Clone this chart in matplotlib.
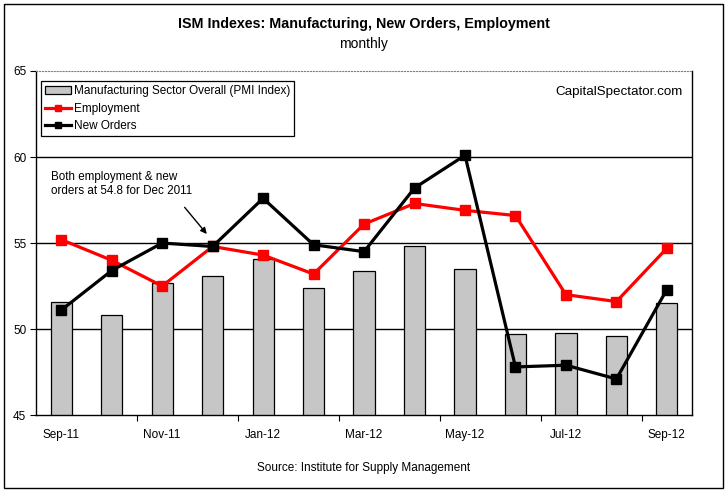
import matplotlib.pyplot as plt
from matplotlib.patches import Rectangle
from matplotlib.lines import Line2D

plt.rcParams['font.family'] = ['Liberation Sans', 'DejaVu Sans']

# ISM data, Sep 2011 - Sep 2012
months = ['Sep-11', 'Oct-11', 'Nov-11', 'Dec-11', 'Jan-12', 'Feb-12', 'Mar-12',
          'Apr-12', 'May-12', 'Jun-12', 'Jul-12', 'Aug-12', 'Sep-12']
pmi = [51.6, 50.8, 52.7, 53.1, 54.1, 52.4, 53.4, 54.8, 53.5, 49.7, 49.8, 49.6, 51.5]
employment = [55.2, 54.0, 52.5, 54.8, 54.3, 53.2, 56.1, 57.3, 56.9, 56.6, 52.0, 51.6, 54.7]
new_orders = [51.1, 53.4, 55.0, 54.8, 57.6, 54.9, 54.5, 58.2, 60.1, 47.8, 47.9, 47.1, 52.3]

x = list(range(len(months)))

fig = plt.figure(figsize=(7.27, 4.93), dpi=100)
ax = fig.add_axes([0.0495, 0.158, 0.9025, 0.698])

ax.bar(x, pmi, width=0.42, color='#c6c6c6', edgecolor='black', linewidth=0.9, zorder=2,
       label='Manufacturing Sector Overall (PMI Index)')
ax.plot(x, employment, color='#ff0000', lw=2.3, marker='s', ms=7, zorder=3, label='Employment')
ax.plot(x, new_orders, color='black', lw=2.3, marker='s', ms=7, zorder=4, label='New Orders')

ax.set_xlim(-0.5, len(months) - 0.5)
ax.set_ylim(45, 65)
for g in [50, 55, 60]:
    ax.axhline(g, color='black', lw=1, zorder=1)

ax.set_yticks([45, 50, 55, 60, 65])
ax.tick_params(axis='y', direction='out', length=4, width=0.8, pad=3, labelsize=8.5)
ax.set_xticks(x[::2])
ax.set_xticklabels(months[::2])
ax.set_xticks([1.5, 3.5, 5.5, 7.5, 9.5, 11.5], minor=True)
ax.tick_params(axis='x', which='major', length=0, pad=10, labelsize=8.5)
ax.tick_params(axis='x', which='minor', direction='out', length=4, width=0.8)

for s in ['left', 'right', 'bottom']:
    ax.spines[s].set_color('black')
    ax.spines[s].set_linewidth(1)
ax.spines['top'].set_color('#808080')
ax.spines['top'].set_linestyle(':')

handles = [Rectangle((0, 0), 1, 1, facecolor='#c6c6c6', edgecolor='black', lw=0.9),
           Line2D([], [], color='#ff0000', lw=2.3, marker='s', ms=5),
           Line2D([], [], color='black', lw=2.3, marker='s', ms=5)]
leg = ax.legend(handles, ['Manufacturing Sector Overall (PMI Index)', 'Employment', 'New Orders'],
                loc='upper left', bbox_to_anchor=(0.008, 0.97), fontsize=8.5, fancybox=False,
                edgecolor='black', framealpha=1, handlelength=2.2, handletextpad=0.2,
                borderpad=0.35, labelspacing=0.45, borderaxespad=0)
leg.get_frame().set_linewidth(0.9)

ax.text(0.985, 0.955, 'CapitalSpectator.com', transform=ax.transAxes, ha='right', va='top',
        fontsize=9.6)

ax.annotate('Both employment & new\norders at 54.8 for Dec 2011',
            xy=(2.89, 55.45), xytext=(-0.2, 59.2), textcoords='data',
            ha='left', va='top', fontsize=8.4, linespacing=1.3)
ax.annotate('', xy=(2.92, 55.4), xytext=(2.41, 57.2),
            arrowprops=dict(arrowstyle='-|>', color='black', lw=1, mutation_scale=9))

fig.text(0.5, 0.951, 'ISM Indexes: Manufacturing, New Orders, Employment', ha='center',
         va='center', fontsize=10.3, fontweight='bold')
fig.text(0.5, 0.911, 'monthly', ha='center', va='center', fontsize=10)
fig.text(0.5, 0.05, 'Source: Institute for Supply Management', ha='center', va='center',
         fontsize=8.5)

fig.patches.append(Rectangle((0.006, 0.01), 0.988, 0.982, transform=fig.transFigure,
                             fill=False, edgecolor='black', lw=1))

fig.savefig('out.png', dpi=100)
